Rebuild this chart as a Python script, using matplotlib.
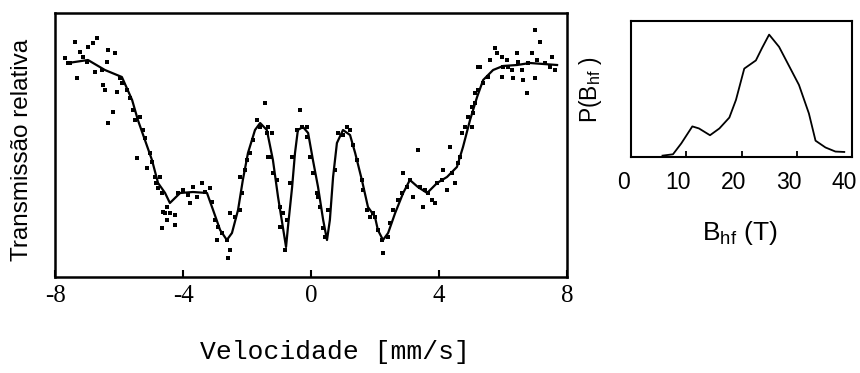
import matplotlib
matplotlib.use("Agg")
import matplotlib.pyplot as plt
from matplotlib.transforms import ScaledTranslation

# ---- Mossbauer spectrum: measured points ----
vel_pts = [-7.59, -7.38, -7.31, -7.53, -7.69, -7.22, -7.13, -6.97, -6.69, -6.81,
           -6.34, -6.13, -7.00, -6.75, -6.53, -6.38, -6.50, -6.44, -6.06, -5.97,
           -5.91, -6.19, -6.34, -5.75, -5.66, -5.56, -5.50, -5.34, -5.25, -5.19,
           -5.44, -5.03, -4.97, -5.13, -4.88, -4.84, -4.78, -4.66, -4.63, -4.66,
           -4.72, -4.50, -4.56, -4.41, -4.25, -4.50, -4.25, -4.16, -4.00, -3.84,
           -3.78, -3.69, -3.56, -3.41, -3.31, -3.16, -3.09, -3.00, -2.91, -2.94,
           -2.78, -2.63, -2.53, -2.59, -2.53, -2.38, -2.22, -2.16, -2.22, -2.06,
           -2.00, -1.91, -1.81, -1.69, -1.59, -1.44, -1.38, -1.34, -1.34, -1.22,
           -1.28, -1.19, -1.06, -0.97, -0.97, -0.88, -0.75, -0.81, -0.66, -0.59,
           -0.34, -0.44, -0.28, -0.13, -0.13, -0.03, 0.06, 0.19, 0.22, 0.28,
           0.38, 0.44, 0.53, 0.75, 0.84, 1.00, 1.13, 1.22, 1.31, 1.44,
           1.59, 1.63, 1.75, 1.84, 1.94, 2.00, 2.09, 2.22, 2.25, 2.41,
           2.47, 2.56, 2.72, 2.84, 2.88, 3.00, 3.09, 3.19, 3.34, 3.41,
           3.50, 3.56, 3.66, 3.78, 3.88, 3.94, 4.09, 4.13, 4.25, 4.34,
           4.41, 4.50, 4.59, 4.66, 4.72, 4.81, 4.91, 5.03, 5.13, 5.22,
           5.06, 5.03, 5.13, 5.22, 5.38, 5.53, 5.28, 5.59, 5.75, 5.81,
           5.97, 5.97, 6.13, 6.16, 6.28, 6.31, 6.47, 6.59, 6.63, 6.75,
           6.78, 6.91, 7.00, 7.06, 7.16, 7.00, 7.31, 7.47, 7.53, 7.63,
           6.00, 6.44]
trans_pts = [0.950, 0.971, 0.935, 0.950, 0.955, 0.961, 0.956, 0.966, 0.975, 0.970,
             0.963, 0.960, 0.951, 0.941, 0.943, 0.951, 0.928, 0.923, 0.921, 0.935,
             0.930, 0.901, 0.890, 0.923, 0.915, 0.903, 0.893, 0.896, 0.883, 0.875,
             0.855, 0.860, 0.851, 0.845, 0.836, 0.830, 0.825, 0.820, 0.801, 0.785,
             0.836, 0.806, 0.800, 0.800, 0.798, 0.793, 0.788, 0.820, 0.823, 0.818,
             0.810, 0.826, 0.816, 0.830, 0.821, 0.825, 0.811, 0.793, 0.786, 0.773,
             0.780, 0.773, 0.763, 0.755, 0.800, 0.796, 0.803, 0.820, 0.836, 0.843,
             0.853, 0.860, 0.873, 0.893, 0.886, 0.910, 0.880, 0.856, 0.886, 0.880,
             0.856, 0.840, 0.833, 0.806, 0.786, 0.800, 0.793, 0.763, 0.830, 0.856,
             0.903, 0.883, 0.886, 0.876, 0.886, 0.856, 0.840, 0.820, 0.816, 0.806,
             0.785, 0.776, 0.803, 0.843, 0.880, 0.878, 0.886, 0.883, 0.868, 0.853,
             0.833, 0.823, 0.803, 0.796, 0.800, 0.796, 0.783, 0.773, 0.760, 0.776,
             0.790, 0.803, 0.813, 0.820, 0.840, 0.826, 0.833, 0.816, 0.863, 0.826,
             0.806, 0.823, 0.820, 0.813, 0.810, 0.830, 0.833, 0.843, 0.823, 0.866,
             0.840, 0.830, 0.850, 0.856, 0.880, 0.886, 0.896, 0.906, 0.920, 0.946,
             0.900, 0.886, 0.910, 0.923, 0.930, 0.936, 0.946, 0.953, 0.965, 0.960,
             0.956, 0.936, 0.953, 0.946, 0.943, 0.935, 0.951, 0.943, 0.933, 0.920,
             0.950, 0.960, 0.935, 0.953, 0.971, 0.983, 0.950, 0.946, 0.956, 0.943,
             0.946, 0.960]

# ---- fitted curve ----
vel_fit = [-7.59, -6.97, -6.44, -5.91, -5.59, -5.41, -5.19, -4.97, -4.78, -4.56,
           -4.41, -4.09, -3.69, -3.25, -3.06, -2.84, -2.63, -2.47, -2.28, -2.13,
           -1.97, -1.75, -1.59, -1.38, -1.19, -1.03, -0.88, -0.78, -0.72, -0.59,
           -0.50, -0.41, -0.25, -0.09, 0.06, 0.22, 0.38, 0.50, 0.59, 0.69,
           0.81, 1.00, 1.22, 1.38, 1.59, 1.78, 2.00, 2.09, 2.25, 2.41,
           2.63, 2.88, 3.09, 3.34, 3.63, 3.94, 4.25, 4.56, 4.75, 4.97,
           5.19, 5.38, 5.69, 6.00, 6.44, 6.84, 7.69]
trans_fit = [0.950, 0.953, 0.943, 0.936, 0.913, 0.893, 0.873, 0.853, 0.830, 0.820,
             0.810, 0.820, 0.821, 0.820, 0.803, 0.783, 0.773, 0.780, 0.803, 0.833,
             0.860, 0.883, 0.890, 0.883, 0.853, 0.816, 0.786, 0.766, 0.786, 0.826,
             0.860, 0.883, 0.886, 0.880, 0.853, 0.826, 0.793, 0.773, 0.793, 0.836,
             0.870, 0.883, 0.878, 0.860, 0.833, 0.806, 0.796, 0.783, 0.773, 0.780,
             0.800, 0.820, 0.833, 0.826, 0.820, 0.830, 0.836, 0.846, 0.866, 0.893,
             0.916, 0.933, 0.943, 0.947, 0.948, 0.950, 0.948]

vel_ticks = [-8, -4, 0, 4, 8]

# ---- hyperfine field distribution ----
bhf = [5.7, 7.6, 9.1, 11.1, 12.3, 14.3, 16.0, 17.8, 19.0, 20.5, 22.6, 23.7,
       25.0, 26.8, 28.6, 30.4, 32.2, 33.4, 35.2, 37.0, 38.6]
pbhf = [0.01, 0.02, 0.10, 0.225, 0.21, 0.16, 0.21, 0.29, 0.42, 0.65, 0.71, 0.80,
        0.90, 0.81, 0.67, 0.53, 0.32, 0.12, 0.07, 0.04, 0.037]
bhf_ticks = [0, 10, 20, 30, 40]

plt.rcParams['mathtext.default'] = 'regular'
plt.rcParams['mathtext.fontset'] = 'custom'
plt.rcParams['mathtext.rm'] = 'Liberation Sans'
plt.rcParams['mathtext.it'] = 'Liberation Sans'

fig = plt.figure(figsize=(8.6, 3.73), dpi=100)

ax = fig.add_axes([55/860, 1 - 277/373, 512/860, 264/373])
ax.scatter(vel_pts, trans_pts, marker='s', s=10, c='black', linewidths=0)
ax.plot(vel_fit, trans_fit, color='black', lw=1.6)
ax.set_xlim(-8, 8)
ax.set_ylim(0.736, 1.0)
ax.set_xticks(vel_ticks)
ax.set_xticklabels([str(t) for t in vel_ticks], family='Liberation Serif', fontsize=18)
ax.set_yticks([])
ax.tick_params(axis='x', direction='in', length=5, width=1.5, pad=6)
for s in ax.spines.values():
    s.set_linewidth(1.8)
fig.text(22.5/860, 1 - 150/373, 'Transmissão relativa', family='Liberation Sans',
         fontsize=17.5, rotation=90, ha='center', va='center')
fig.text(334.5/860, 1 - 352/373, 'Velocidade [mm/s]', family='Liberation Mono',
         fontsize=19, ha='center', va='center')

ax2 = fig.add_axes([631/860, 1 - 157/373, 221/860, 136/373])
ax2.plot(bhf, pbhf, color='black', lw=1.3)
ax2.set_xlim(0, 40)
ax2.set_ylim(0, 1.0)
ax2.set_xticks(bhf_ticks)
ax2.set_xticklabels([str(t) for t in bhf_ticks], family='Liberation Sans', fontsize=16.5)
ax2.set_yticks([])
ax2.tick_params(axis='x', direction='in', length=4, width=1.3, pad=10)
shift = ScaledTranslation(-8/100, 0, fig.dpi_scale_trans)
for lab in ax2.get_xticklabels():
    lab.set_transform(lab.get_transform() + shift)
for s in ax2.spines.values():
    s.set_linewidth(1.5)
fig.text(591/860, 1 - 90/373, r'P(B$_{hf}$ )', family='Liberation Sans', fontsize=16.5,
         rotation=90, ha='center', va='center')
fig.text(740/860, 1 - 233/373, r'B$_{hf}$ (T)', family='Liberation Sans', fontsize=19,
         ha='center', va='center')

fig.savefig('out.png', dpi=100)
